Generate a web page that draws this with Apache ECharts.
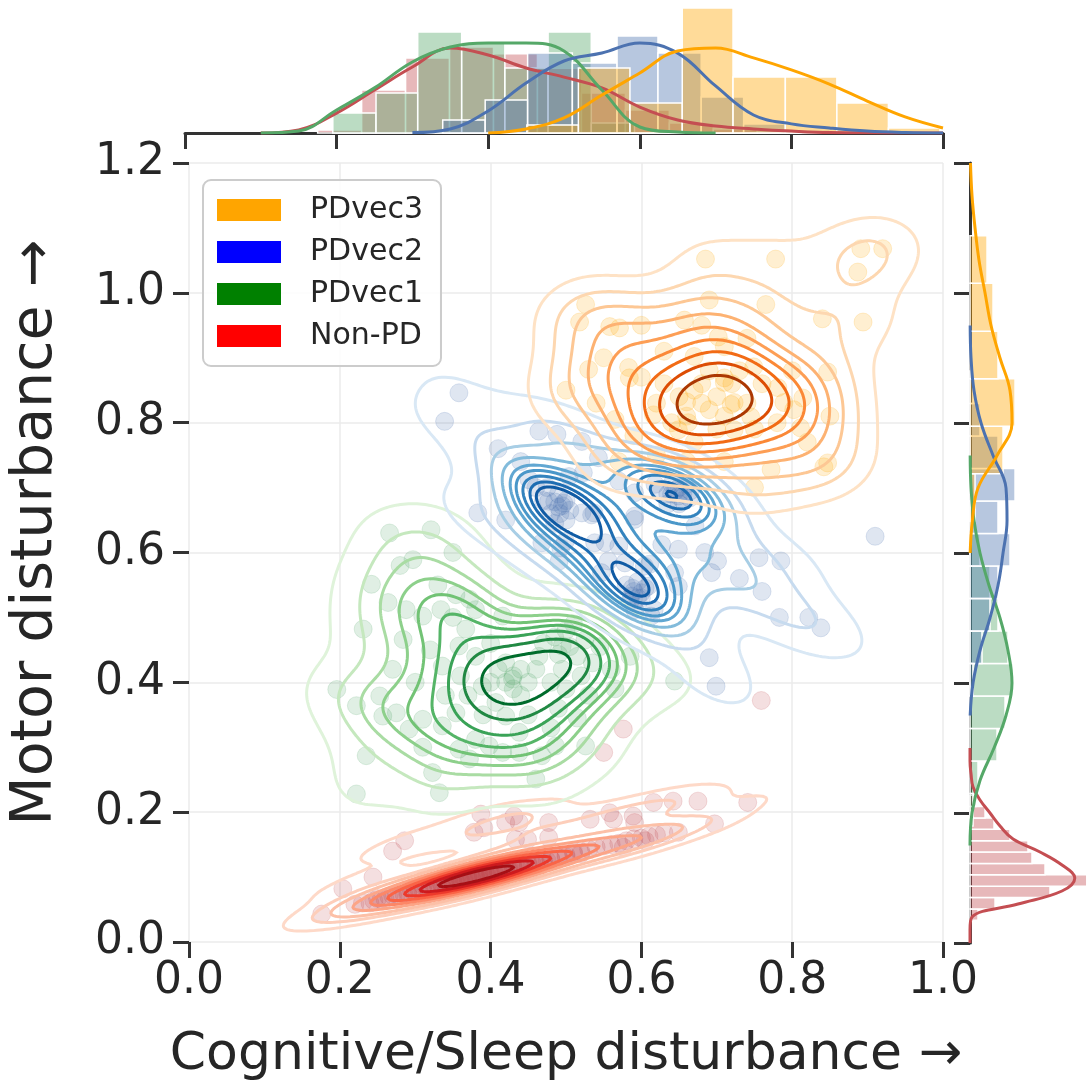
<!DOCTYPE html>
<html>
<head>
<meta charset="utf-8">
<script src="https://cdn.jsdelivr.net/npm/echarts@6/dist/echarts.min.js"></script>
<style>
html, body { margin: 0; padding: 0; background: #fff; }
#mybox { width: 1089px; height: 1086px; }
</style>
</head>
<body>
<div id="mybox"></div>
<script>
// ---------- scatter points (Cognitive/Sleep, Motor) ----------
var vec3Pts = [
  [0.685,1.052],[0.778,1.052],[0.891,1.068],[0.920,1.068],[0.887,1.032],
  [0.526,0.982],[0.518,0.955],[0.558,0.948],[0.571,0.946],[0.690,0.989],
  [0.765,0.982],[0.657,0.958],[0.894,0.955],[0.702,0.932],[0.710,0.917],
  [0.670,0.902],[0.530,0.882],[0.583,0.885],[0.584,0.869],[0.710,0.869],
  [0.749,0.886],[0.847,0.878],[0.781,0.854],[0.789,0.831],[0.814,0.838],
  [0.660,0.832],[0.719,0.828],[0.745,0.809],[0.802,0.820],[0.811,0.792],
  [0.662,0.800],[0.649,0.789],[0.847,0.738],[0.710,0.862],[0.723,0.831],
  [0.772,0.728],[0.842,0.732],[0.565,0.805],[0.616,0.812],[0.723,0.789],
  [0.680,0.830],[0.700,0.840],[0.690,0.820],[0.670,0.850],[0.710,0.810],
  [0.660,0.810],[0.720,0.860],[0.680,0.860],[0.700,0.790],[0.650,0.840],
  [0.740,0.830],[0.630,0.860],[0.670,0.770],[0.760,0.860],[0.640,0.800],
  [0.730,0.880],[0.690,0.880],[0.620,0.830],[0.750,0.790],[0.600,0.870],
  [0.660,0.740],[0.710,0.740],[0.780,0.800],[0.590,0.780],[0.550,0.900],
  [0.630,0.910],[0.740,0.930],[0.800,0.880],[0.850,0.810],[0.600,0.950],
  [0.680,0.950],[0.500,0.850],[0.540,0.830],[0.570,0.740],[0.620,0.750],
  [0.750,0.700],[0.820,0.770],[0.840,0.960]
];
var vec2Pts = [
  [0.358,0.846],[0.339,0.802],[0.464,0.787],[0.488,0.782],[0.521,0.771],
  [0.543,0.746],[0.504,0.717],[0.523,0.723],[0.451,0.712],[0.477,0.679],
  [0.497,0.676],[0.521,0.661],[0.537,0.661],[0.570,0.710],[0.591,0.692],
  [0.591,0.656],[0.618,0.705],[0.649,0.687],[0.664,0.684],[0.671,0.641],
  [0.468,0.615],[0.493,0.607],[0.552,0.615],[0.570,0.610],[0.627,0.612],
  [0.649,0.605],[0.556,0.587],[0.578,0.584],[0.611,0.582],[0.684,0.600],
  [0.701,0.587],[0.756,0.592],[0.785,0.587],[0.587,0.533],[0.609,0.548],
  [0.644,0.569],[0.649,0.548],[0.693,0.569],[0.783,0.500],[0.822,0.500],
  [0.838,0.484],[0.690,0.438],[0.699,0.394],[0.383,0.661],[0.547,0.569],
  [0.591,0.512],[0.613,0.502],[0.910,0.625],[0.538,0.615],[0.591,0.651],
  [0.604,0.579],[0.617,0.512],[0.499,0.617],[0.491,0.587],[0.534,0.658],
  [0.490,0.670],[0.480,0.660],[0.500,0.680],[0.490,0.690],[0.470,0.680],
  [0.500,0.650],[0.485,0.645],[0.475,0.700],[0.505,0.665],
  [0.495,0.672],[0.485,0.678],[0.492,0.660],
  [0.590,0.540],[0.600,0.530],[0.580,0.550],[0.595,0.555],[0.585,0.525],[0.605,0.545],
  [0.595,0.530],[0.588,0.545],[0.600,0.538],
  [0.640,0.690],[0.650,0.700],[0.635,0.675],[0.655,0.680],[0.660,0.705],[0.625,0.695],
  [0.645,0.695],[0.655,0.690],[0.640,0.705],[0.665,0.695],[0.650,0.675],[0.635,0.690],
  [0.460,0.700],[0.440,0.740],[0.410,0.760],[0.730,0.560],[0.760,0.540],[0.420,0.650]
];
var vec1Pts = [
  [0.266,0.630],[0.321,0.635],[0.242,0.551],[0.264,0.523],[0.297,0.589],
  [0.288,0.512],[0.310,0.502],[0.334,0.512],[0.354,0.535],[0.372,0.528],
  [0.380,0.512],[0.367,0.482],[0.358,0.456],[0.336,0.425],[0.231,0.482],
  [0.284,0.466],[0.196,0.389],[0.222,0.364],[0.253,0.379],[0.257,0.348],
  [0.275,0.353],[0.292,0.328],[0.310,0.343],[0.336,0.333],[0.354,0.353],
  [0.389,0.394],[0.407,0.369],[0.420,0.348],[0.438,0.323],[0.380,0.312],
  [0.398,0.302],[0.358,0.297],[0.372,0.282],[0.416,0.292],[0.438,0.292],
  [0.468,0.287],[0.486,0.302],[0.235,0.287],[0.323,0.261],[0.332,0.230],
  [0.222,0.228],[0.460,0.251],[0.490,0.443],[0.495,0.456],[0.464,0.440],
  [0.429,0.405],[0.526,0.302],[0.416,0.502],[0.644,0.402],
  [0.430,0.410],[0.420,0.400],[0.440,0.420],[0.430,0.390],[0.410,0.420],
  [0.450,0.400],[0.420,0.430],[0.440,0.380],[0.400,0.400],[0.460,0.420],
  [0.380,0.440],[0.400,0.460],[0.360,0.410],[0.370,0.380],[0.470,0.460],
  [0.500,0.480],[0.480,0.400],[0.390,0.350],[0.340,0.380],[0.320,0.450],
  [0.300,0.400],[0.330,0.550],[0.280,0.580],[0.350,0.600],[0.520,0.410],
  [0.450,0.350],[0.490,0.360],[0.310,0.300],[0.270,0.420],[0.350,0.500],
  [0.485,0.470],[0.505,0.455],[0.515,0.440],[0.525,0.465],[0.495,0.420],
  [0.535,0.430],[0.510,0.490],[0.545,0.455],[0.500,0.390],[0.530,0.380],
  [0.480,0.330],[0.515,0.345],[0.560,0.420],[0.565,0.390],[0.585,0.440]
];
var nonPdPts = [
  [0.176,0.043],[0.204,0.082],[0.244,0.100],[0.270,0.140],[0.286,0.156],
  [0.378,0.169],[0.387,0.197],[0.391,0.176],[0.420,0.184],[0.431,0.194],
  [0.438,0.184],[0.477,0.184],[0.433,0.158],[0.449,0.158],[0.477,0.161],
  [0.532,0.189],[0.558,0.199],[0.563,0.189],[0.589,0.194],[0.591,0.184],
  [0.616,0.215],[0.642,0.217],[0.675,0.217],[0.741,0.215],[0.697,0.182],
  [0.649,0.169],[0.605,0.156],[0.576,0.146],[0.759,0.372],[0.576,0.328],
  [0.550,0.292],
  [0.220,0.058],[0.240,0.060],[0.250,0.067],[0.260,0.066],[0.270,0.072],
  [0.280,0.071],[0.290,0.077],[0.300,0.078],[0.300,0.083],[0.310,0.080],
  [0.320,0.086],[0.320,0.082],[0.330,0.088],[0.330,0.091],[0.340,0.089],
  [0.340,0.094],[0.350,0.092],[0.350,0.096],[0.360,0.094],[0.360,0.099],
  [0.360,0.097],[0.370,0.098],[0.370,0.101],[0.370,0.096],[0.380,0.100],
  [0.380,0.104],[0.380,0.099],[0.390,0.103],[0.390,0.106],[0.400,0.105],
  [0.400,0.109],[0.400,0.102],[0.410,0.108],[0.410,0.111],[0.420,0.110],
  [0.420,0.114],[0.430,0.113],[0.440,0.117],[0.440,0.114],[0.450,0.120],
  [0.460,0.122],[0.470,0.124],[0.480,0.128],[0.490,0.130],[0.500,0.134],
  [0.510,0.136],[0.520,0.139],[0.530,0.143],[0.550,0.148],[0.570,0.152],
  [0.590,0.159],[0.610,0.163],[0.630,0.168],[0.345,0.100],[0.355,0.090],
  [0.385,0.097],[0.395,0.110],[0.290,0.073],[0.310,0.087],[0.430,0.117],
  [0.230,0.060],[0.245,0.064],[0.255,0.066],[0.265,0.070],[0.275,0.073],
  [0.285,0.074],[0.295,0.080],[0.305,0.081],[0.315,0.084],[0.325,0.085],
  [0.335,0.090],[0.345,0.093],[0.350,0.094],[0.355,0.097],[0.360,0.095],
  [0.365,0.098],[0.370,0.099],[0.375,0.100],[0.375,0.097],[0.380,0.102],
  [0.385,0.101],[0.390,0.104],[0.395,0.103],[0.400,0.107],[0.405,0.106],
  [0.410,0.109],[0.415,0.110],[0.420,0.112],[0.425,0.113],[0.430,0.115],
  [0.435,0.114],[0.440,0.116],[0.445,0.118],[0.450,0.118],[0.455,0.121],
  [0.460,0.120],[0.465,0.124],[0.470,0.126],[0.475,0.125],[0.480,0.127],
  [0.490,0.132],[0.500,0.131],[0.510,0.139],[0.520,0.136],[0.540,0.146],
  [0.560,0.150],[0.580,0.156],[0.600,0.160],[0.620,0.165],[0.335,0.087],
  [0.325,0.089],[0.365,0.093],[0.395,0.100],[0.405,0.111],[0.425,0.109],
  [0.355,0.099],[0.385,0.105],[0.345,0.091]
];

// ---------- top marginal: histograms (bin edges + density) ----------
var xEdgesNonPd = [0.175,0.233,0.291,0.349,0.407,0.465,0.523,0.581,0.639,0.697,0.755,0.813];
var xHistNonPd  = [0.13,1.79,3.13,3.58,3.3,2.7,1.67,0.96,0.42,0.17,0.08];
var xEdgesVec1  = [0.195,0.252,0.307,0.365,0.422,0.479,0.536,0.593];
var xHistVec1   = [0.83,1.67,4.21,3.79,2.71,4.21,0.42];
var xEdgesVec2  = [0.340,0.396,0.452,0.511,0.570,0.624,0.681,0.737,0.794,0.851,0.908];
var xHistVec2   = [0.54,1.38,3.33,2.92,4.04,3.33,1.5,0.38,0.13,0.08];
var xEdgesVec3  = [0.451,0.519,0.587,0.656,0.723,0.792,0.860,0.928,0.996];
var xHistVec3   = [0.33,2.71,1.25,5.21,2.33,2.33,1.25,0.21];

// top marginal: kde curves
var kdeX = [0.10,0.15,0.20,0.25,0.30,0.35,0.40,0.45,0.50,0.55,0.60,0.65,0.70,0.75,0.80,0.85,0.90,0.95,1.00];
var topKdeNonPd = [0,0.13,0.83,1.79,2.75,3.54,3.25,2.71,2.33,1.88,1.08,0.54,0.29,0.17,0.08,0.02,0.01,0,0];
var topKdeVec1  = [0,0.08,0.96,1.88,2.96,3.58,3.75,3.75,3.42,1.79,0.25,0.04,0,null,null,null,null,null,null];
var topKdeVec2  = [null,null,null,null,0.02,0.17,0.92,2.08,3.0,3.33,3.75,3.33,1.96,0.75,0.38,0.21,0.08,0.02,0];
var topKdeVec3  = [null,null,null,null,null,null,0,0.17,0.63,1.58,2.5,3.42,3.54,3.13,2.63,2.04,1.33,0.67,0.21];

// ---------- right marginal: histograms ----------
var yEdgesNonPd = [0.035,0.0525,0.07,0.0875,0.105,0.1225,0.14,0.1575,0.175,0.1925,0.21,0.2275];
var yHistNonPd  = [1.0,3.13,10.0,14.6,9.38,7.75,7.25,5.0,3.0,1.88,0.75];
var yEdgesVec1  = [0.18,0.23,0.28,0.33,0.38,0.43,0.48,0.53,0.58,0.63,0.68];
var yHistVec1   = [0.38,1.0,3.38,4.38,5.38,4.75,3.5,2.5,1.25,0.5];
var yEdgesVec2  = [0.38,0.43,0.48,0.53,0.58,0.63,0.68,0.73,0.78,0.83,0.88];
var yHistVec2   = [0.38,1.5,2.5,3.5,5.0,3.5,5.63,3.5,1.25,0.38];
var yEdgesVec3  = [0.649,0.722,0.795,0.868,0.941,1.015,1.088];
var yHistVec3   = [0.63,4.13,5.63,3.5,2.88,2.13];

// right marginal: kde curves
var kdeY = [0.15,0.20,0.25,0.30,0.35,0.40,0.45,0.50,0.55,0.60,0.65,0.70,0.75,0.80,0.85,0.90,0.95,1.00,1.05,1.10,1.15,1.20];
var rightKdeVec1 = [0,0.25,1.25,3.0,4.5,5.25,4.75,3.75,2.38,1.25,0.5,0.13,0.02,null,null,null,null,null,null,null,null,null];
var rightKdeVec2 = [null,null,null,null,0.02,0.38,1.25,2.5,3.5,4.13,4.63,4.5,2.88,1.38,0.5,0.13,0.02,null,null,null,null,null];
var rightKdeVec3 = [null,null,null,null,null,null,null,null,null,0.02,0.3,1.0,3.38,5.25,5.0,3.75,2.63,1.88,1.13,0.63,0.25,0.06];
var kdeYNonPd = [0.00,0.02,0.04,0.06,0.08,0.10,0.12,0.14,0.16,0.18,0.20,0.22,0.24,0.26,0.28,0.30];
var rightKdeNonPd = [0,0,0.25,6.0,11.5,13.1,11.5,8.75,5.38,3.75,2.5,1.25,0.38,0.13,0,0];

// ---------- colours ----------
var ORANGES = ['#fff5eb','#fee6ce','#fdd0a2','#fdae6b','#fd8d3c','#f16913','#d94801','#a63603','#7f2704'];
var BLUES   = ['#f7fbff','#deebf7','#c6dbef','#9ecae1','#6baed6','#4292c6','#2171b5','#08519c','#08306b'];
var GREENS  = ['#f7fcf5','#e5f5e0','#c7e9c0','#a1d99b','#74c476','#41ab5d','#238b45','#006d2c','#00441b'];
var REDS    = ['#fff5f0','#fee0d2','#fcbba1','#fc9272','#fb6a4a','#ef3b2c','#cb181d','#a50f15','#67000d'];

var FONT = 'DejaVu Sans';
var TXT = '#262626';

var groups = [
  { name: 'Non-PD', pts: nonPdPts, cmap: REDS,    base: '#c44e52', hist: 'rgba(196,78,82,0.4)',
    xe: xEdgesNonPd, xh: xHistNonPd, tk: topKdeNonPd, ye: yEdgesNonPd, yh: yHistNonPd, ry: kdeYNonPd, rk: rightKdeNonPd },
  { name: 'PDvec1', pts: vec1Pts, cmap: GREENS,  base: '#55a868', hist: 'rgba(85,168,104,0.4)',
    xe: xEdgesVec1, xh: xHistVec1, tk: topKdeVec1, ye: yEdgesVec1, yh: yHistVec1, ry: kdeY, rk: rightKdeVec1 },
  { name: 'PDvec2', pts: vec2Pts, cmap: BLUES,   base: '#4c72b0', hist: 'rgba(76,114,176,0.4)',
    xe: xEdgesVec2, xh: xHistVec2, tk: topKdeVec2, ye: yEdgesVec2, yh: yHistVec2, ry: kdeY, rk: rightKdeVec2 },
  { name: 'PDvec3', pts: vec3Pts, cmap: ORANGES, base: '#ffa500', hist: 'rgba(255,165,0,0.4)',
    xe: xEdgesVec3, xh: xHistVec3, tk: topKdeVec3, ye: yEdgesVec3, yh: yHistVec3, ry: kdeY, rk: rightKdeVec3 }
];
var legendColors = { 'PDvec3': '#ffa500', 'PDvec2': '#0000ff', 'PDvec1': '#008000', 'Non-PD': '#ff0000' };

// ---------- kde contour helpers (gaussian kde, scott factor, iso-proportion levels) ----------
function hexRgb(h) { return [parseInt(h.substr(1, 2), 16), parseInt(h.substr(3, 2), 16), parseInt(h.substr(5, 2), 16)]; }
function cmapColor(stops, t) {
  t = Math.max(0, Math.min(1, t));
  var p = t * (stops.length - 1), i = Math.min(Math.floor(p), stops.length - 2), f = p - i;
  var a = hexRgb(stops[i]), b = hexRgb(stops[i + 1]);
  return 'rgb(' + Math.round(a[0] + f * (b[0] - a[0])) + ',' + Math.round(a[1] + f * (b[1] - a[1])) + ',' + Math.round(a[2] + f * (b[2] - a[2])) + ')';
}

// marching squares + chaining into polylines
function isoLines(z, gx, gy, lev) {
  var nx = gx.length, ny = gy.length, segs = [], pts = {};
  function pt(t, i, j) {
    var k = t + i + '_' + j;
    if (!pts[k]) {
      var a, b, f;
      if (t === 'h') { a = z[j][i]; b = z[j][i + 1]; f = (lev - a) / (b - a); pts[k] = [gx[i] + f * (gx[i + 1] - gx[i]), gy[j]]; }
      else { a = z[j][i]; b = z[j + 1][i]; f = (lev - a) / (b - a); pts[k] = [gx[i], gy[j] + f * (gy[j + 1] - gy[j])]; }
    }
    return k;
  }
  for (var j = 0; j < ny - 1; j++) {
    for (var i = 0; i < nx - 1; i++) {
      var v0 = z[j][i], v1 = z[j][i + 1], v2 = z[j + 1][i + 1], v3 = z[j + 1][i];
      var c = (v0 > lev ? 1 : 0) | (v1 > lev ? 2 : 0) | (v2 > lev ? 4 : 0) | (v3 > lev ? 8 : 0);
      if (c === 0 || c === 15) continue;
      var e = [['h', i, j], ['v', i + 1, j], ['h', i, j + 1], ['v', i, j]];
      var pairs, mid = (v0 + v1 + v2 + v3) / 4 > lev;
      switch (c) {
        case 1: case 14: pairs = [[3, 0]]; break;
        case 2: case 13: pairs = [[0, 1]]; break;
        case 3: case 12: pairs = [[3, 1]]; break;
        case 4: case 11: pairs = [[1, 2]]; break;
        case 6: case 9: pairs = [[0, 2]]; break;
        case 7: case 8: pairs = [[2, 3]]; break;
        case 5: pairs = mid ? [[0, 1], [2, 3]] : [[3, 0], [1, 2]]; break;
        case 10: pairs = mid ? [[3, 0], [1, 2]] : [[0, 1], [2, 3]]; break;
      }
      for (var p = 0; p < pairs.length; p++) {
        var A = e[pairs[p][0]], B = e[pairs[p][1]];
        segs.push([pt(A[0], A[1], A[2]), pt(B[0], B[1], B[2])]);
      }
    }
  }
  var adj = {};
  segs.forEach(function (s, k) {
    (adj[s[0]] = adj[s[0]] || []).push(k);
    (adj[s[1]] = adj[s[1]] || []).push(k);
  });
  var used = new Uint8Array(segs.length), lines = [];
  function grow(path, atEnd) {
    while (true) {
      var key = atEnd ? path[path.length - 1] : path[0];
      var list = adj[key], next = -1;
      for (var m = 0; m < list.length; m++) { if (!used[list[m]]) { next = list[m]; break; } }
      if (next < 0) break;
      used[next] = 1;
      var other = segs[next][0] === key ? segs[next][1] : segs[next][0];
      if (atEnd) path.push(other); else path.unshift(other);
    }
  }
  for (var k = 0; k < segs.length; k++) {
    if (used[k]) continue;
    used[k] = 1;
    var path = [segs[k][0], segs[k][1]];
    grow(path, true);
    grow(path, false);
    lines.push(path.map(function (key) { return pts[key]; }));
  }
  return lines;
}

function contourData(g) {
  var n = g.pts.length, mx = 0, my = 0, i, j, k;
  g.pts.forEach(function (p) { mx += p[0]; my += p[1]; });
  mx /= n; my /= n;
  var sxx = 0, syy = 0, sxy = 0;
  g.pts.forEach(function (p) { sxx += (p[0] - mx) * (p[0] - mx); syy += (p[1] - my) * (p[1] - my); sxy += (p[0] - mx) * (p[1] - my); });
  var f2 = Math.pow(n, -1 / 3);
  var cxx = sxx / (n - 1) * f2, cyy = syy / (n - 1) * f2, cxy = sxy / (n - 1) * f2;
  var det = cxx * cyy - cxy * cxy, ixx = cyy / det, iyy = cxx / det, ixy = -cxy / det;
  var bx = Math.sqrt(cxx), by = Math.sqrt(cyy);
  var xs = g.pts.map(function (p) { return p[0]; }), ys = g.pts.map(function (p) { return p[1]; });
  var size = 200, gx = [], gy = [];
  var x0 = Math.min.apply(null, xs) - 3 * bx, x1 = Math.max.apply(null, xs) + 3 * bx;
  var y0 = Math.min.apply(null, ys) - 3 * by, y1 = Math.max.apply(null, ys) + 3 * by;
  for (i = 0; i < size; i++) { gx.push(x0 + (x1 - x0) * i / (size - 1)); gy.push(y0 + (y1 - y0) * i / (size - 1)); }
  var norm = 1 / (n * 2 * Math.PI * Math.sqrt(det));
  var z = [], all = [], total = 0;
  for (j = 0; j < size; j++) {
    var row = [];
    for (i = 0; i < size; i++) {
      var s = 0;
      for (k = 0; k < n; k++) {
        var dx = gx[i] - g.pts[k][0], dy = gy[j] - g.pts[k][1];
        s += Math.exp(-0.5 * (ixx * dx * dx + 2 * ixy * dx * dy + iyy * dy * dy));
      }
      s *= norm;
      row.push(s); all.push(s); total += s;
    }
    z.push(row);
  }
  all.sort(function (a, b) { return b - a; });
  var cum = [], acc = 0;
  for (i = 0; i < all.length; i++) { acc += all[i]; cum.push(acc / total); }
  var levels = [];
  for (k = 0; k < 10; k++) {
    var q = 0.05 + 0.95 * k / 9, target = 1 - q, idx = 0;
    while (idx < cum.length - 1 && cum[idx] < target) idx++;
    levels.push(all[idx]);
  }
  var lo = levels[0], hi = levels[levels.length - 1], out = [];
  levels.forEach(function (L, li) {
    if (li === levels.length - 1) return;
    var col = cmapColor(g.cmap, 0.15 + 0.85 * (L - lo) / (hi - lo));
    isoLines(z, gx, gy, L).forEach(function (path) {
      out.push({ coords: path, lineStyle: { color: col } });
    });
  });
  return out;
}

function binItems(edges, vals) {
  var out = [];
  for (var i = 0; i < vals.length; i++) out.push([edges[i], edges[i + 1], vals[i]]);
  return out;
}
function pairs(a, b) {
  var out = [];
  for (var i = 0; i < a.length; i++) { if (a[i] != null && b[i] != null) out.push([a[i], b[i]]); }
  return out;
}
function rectItem(horizontal, fill) {
  return function (params, api) {
    var a = api.value(0), b = api.value(1), h = api.value(2);
    var p0 = horizontal ? api.coord([0, a]) : api.coord([a, 0]);
    var p1 = horizontal ? api.coord([h, b]) : api.coord([b, h]);
    return {
      type: 'rect',
      shape: { x: Math.min(p0[0], p1[0]), y: Math.min(p0[1], p1[1]), width: Math.abs(p1[0] - p0[0]), height: Math.abs(p1[1] - p0[1]) },
      style: { fill: fill, stroke: '#ffffff', lineWidth: 1.5 }
    };
  };
}

// ---------- series ----------
var series = [];
groups.forEach(function (g) {
  series.push({
    type: 'scatter', xAxisIndex: 0, yAxisIndex: 0, data: g.pts, symbolSize: 18, silent: true, z: 2,
    itemStyle: { color: g.base, opacity: 0.18, borderColor: g.base, borderWidth: 1 }
  });
});
groups.forEach(function (g) {
  series.push({
    type: 'lines', coordinateSystem: 'cartesian2d', xAxisIndex: 0, yAxisIndex: 0, polyline: true, silent: true, z: 3,
    lineStyle: { width: 3, opacity: 1 }, data: contourData(g)
  });
});
groups.forEach(function (g) {
  series.push({
    type: 'custom', xAxisIndex: 1, yAxisIndex: 1, silent: true, z: 2,
    encode: { x: [0, 1], y: 2 }, data: binItems(g.xe, g.xh), renderItem: rectItem(false, g.hist)
  });
  series.push({
    type: 'line', xAxisIndex: 1, yAxisIndex: 1, silent: true, z: 2, smooth: 0.4, showSymbol: false,
    lineStyle: { color: g.base, width: 3 }, data: pairs(kdeX, g.tk)
  });
  series.push({
    type: 'custom', xAxisIndex: 2, yAxisIndex: 2, silent: true, z: 2,
    encode: { x: 2, y: [0, 1] }, data: binItems(g.ye, g.yh), renderItem: rectItem(true, g.hist)
  });
  series.push({
    type: 'line', xAxisIndex: 2, yAxisIndex: 2, silent: true, z: 2, smooth: 0.4, showSymbol: false,
    lineStyle: { color: g.base, width: 3 }, data: pairs(g.rk, g.ry)
  });
});
// legend swatches
['PDvec3', 'PDvec2', 'PDvec1', 'Non-PD'].forEach(function (nm) {
  series.push({ type: 'scatter', name: nm, xAxisIndex: 0, yAxisIndex: 0, data: [], itemStyle: { color: legendColors[nm], opacity: 1 } });
});

var tickStyle = { show: true, length: 16, lineStyle: { color: '#333333', width: 3 } };
var gridLine = { show: true, lineStyle: { color: '#ebebeb', width: 1.5 } };

var option = {
  animation: false,
  backgroundColor: '#ffffff',
  textStyle: { fontFamily: FONT },
  grid: [
    { left: 185, top: 163, width: 758, height: 780 },
    { left: 185, top: 5, width: 758, height: 128 },
    { left: 970, top: 163, width: 119, height: 780 }
  ],
  legend: {
    data: ['PDvec3', 'PDvec2', 'PDvec1', 'Non-PD'],
    orient: 'vertical', left: 203, top: 180, icon: 'rect',
    itemWidth: 64, itemHeight: 22, itemGap: 12,
    padding: [15, 18, 15, 14],
    backgroundColor: 'rgba(255,255,255,0.85)', borderColor: '#cccccc', borderWidth: 2, borderRadius: 8,
    textStyle: { fontSize: 30, color: TXT, fontFamily: FONT, padding: [0, 0, 0, 24] },
    selectedMode: false, z: 10
  },
  xAxis: [
    {
      gridIndex: 0, type: 'value', min: 0, max: 1, interval: 0.2,
      name: 'Cognitive/Sleep disturbance →', nameLocation: 'middle', nameGap: 87,
      nameTextStyle: { fontSize: 52, color: TXT, fontFamily: FONT },
      axisLine: { show: false, onZero: false }, axisTick: tickStyle,
      axisLabel: { fontSize: 44, color: TXT, margin: 18, fontFamily: FONT, formatter: function (v) { return v.toFixed(1); } },
      splitLine: gridLine
    },
    {
      gridIndex: 1, type: 'value', min: 0, max: 1, interval: 0.2,
      axisLine: { show: true, onZero: false, lineStyle: { color: '#333333', width: 3 } },
      axisTick: tickStyle, axisLabel: { show: false }, splitLine: { show: false }
    },
    { gridIndex: 2, type: 'value', min: 0, max: 14.875, show: false }
  ],
  yAxis: [
    {
      gridIndex: 0, type: 'value', min: 0, max: 1.2, interval: 0.2,
      name: 'Motor disturbance →', nameLocation: 'middle', nameGap: 124,
      nameTextStyle: { fontSize: 57, color: TXT, fontFamily: FONT, padding: [0, 0, 0, 40] },
      axisLine: { show: false, onZero: false }, axisTick: tickStyle,
      axisLabel: { fontSize: 44, color: TXT, margin: 24, fontFamily: FONT, formatter: function (v) { return v.toFixed(1); } },
      splitLine: gridLine
    },
    { gridIndex: 1, type: 'value', min: 0, max: 5.333, show: false },
    {
      gridIndex: 2, type: 'value', min: 0, max: 1.2, interval: 0.2, position: 'left',
      axisLine: { show: true, onZero: false, lineStyle: { color: '#333333', width: 3 } },
      axisTick: tickStyle, axisLabel: { show: false }, splitLine: { show: false }
    }
  ],
  series: series
};

var mycharts = echarts.init(document.getElementById('mybox'));
mycharts.setOption(option);
</script>
</body>
</html>
